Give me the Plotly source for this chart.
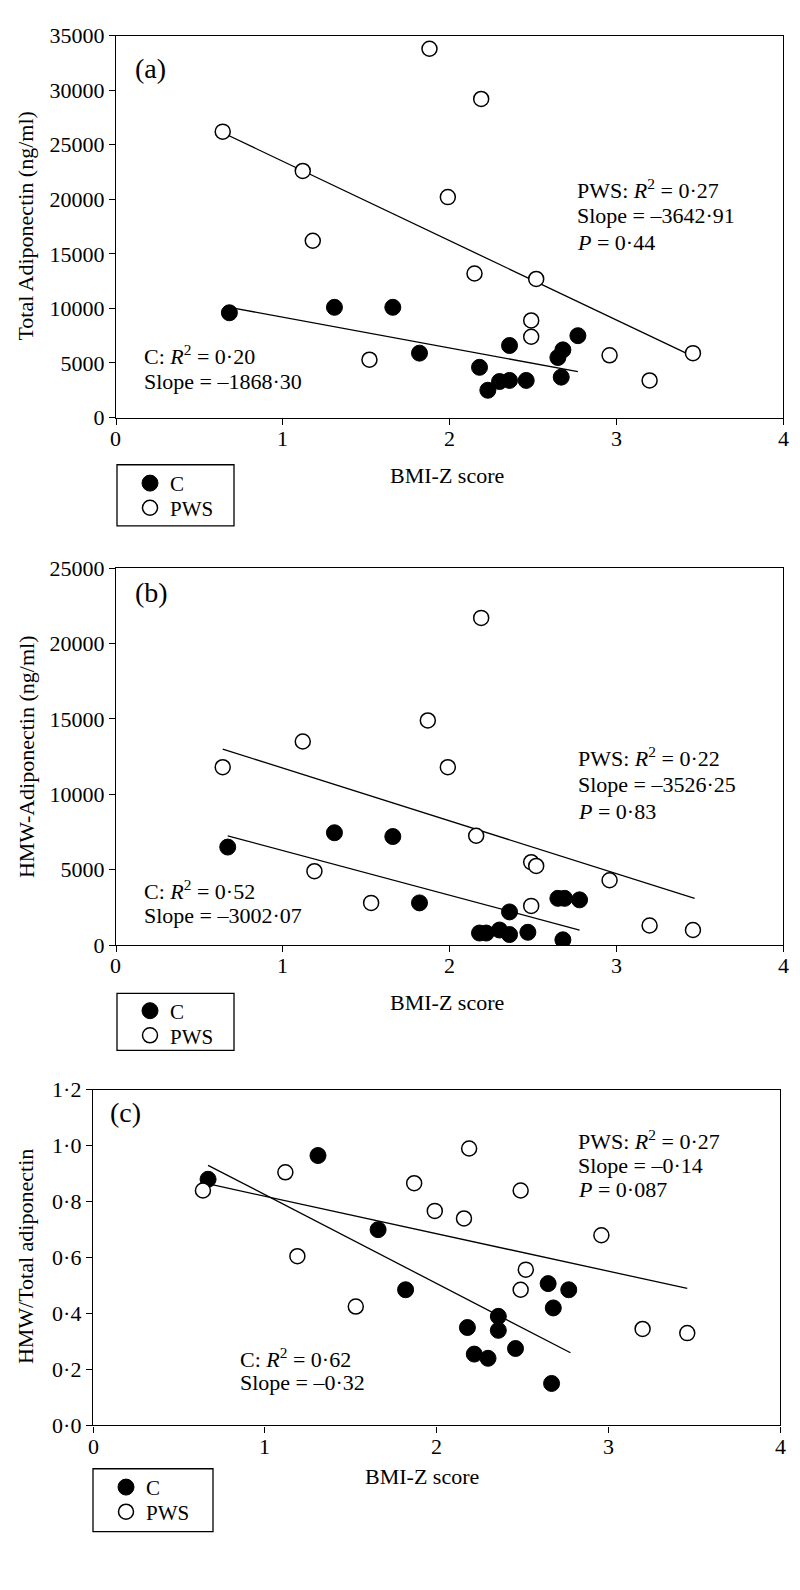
import plotly.graph_objects as go

W, H = 800, 1590
FONT = "Liberation Serif"

# shared x axis ticks
x_ticks = [0, 1, 2, 3, 4]

# (a) total adiponectin
a_c_x = [0.68, 1.31, 1.66, 1.82, 2.18, 2.23, 2.30, 2.36, 2.36, 2.46, 2.65, 2.68, 2.67, 2.77]
a_c_y = [9600, 10100, 10100, 5900, 4600, 2500, 3300, 3400, 6600, 3400, 5500, 6200, 3700, 7500]
a_pws_x = [0.64, 1.12, 1.18, 1.52, 1.88, 2.19, 1.99, 2.15, 2.52, 2.49, 2.49, 2.96, 3.20, 3.46]
a_pws_y = [26200, 22600, 16200, 5300, 33800, 29200, 20200, 13200, 12700, 8900, 7400, 5700, 3400, 5900]
a_c_fit_x = [0.68, 2.77]
a_c_fit_y = [10100, 4200]
a_pws_fit_x = [0.64, 3.46]
a_pws_fit_y = [26100, 5600]
a_ticks = [0, 5000, 10000, 15000, 20000, 25000, 30000, 35000]

# (b) HMW adiponectin
b_c_x = [0.67, 1.31, 1.66, 1.82, 2.36, 2.18, 2.22, 2.30, 2.36, 2.47, 2.65, 2.69, 2.78, 2.68]
b_c_y = [6500, 7450, 7200, 2800, 2200, 800, 800, 1000, 700, 850, 3100, 3100, 3000, 350]
b_pws_x = [0.64, 1.12, 1.19, 1.53, 1.87, 2.19, 1.99, 2.16, 2.49, 2.52, 2.49, 2.96, 3.20, 3.46]
b_pws_y = [11800, 13500, 4900, 2800, 14900, 21700, 11800, 7250, 5500, 5250, 2600, 4300, 1300, 1000]
b_c_fit_x = [0.67, 2.78]
b_c_fit_y = [7250, 1000]
b_pws_fit_x = [0.64, 3.47]
b_pws_fit_y = [13000, 3100]
b_ticks = [0, 5000, 10000, 15000, 20000, 25000]

# (c) HMW / total ratio
c_c_x = [0.67, 1.31, 1.66, 1.82, 2.18, 2.22, 2.30, 2.36, 2.36, 2.46, 2.65, 2.68, 2.77, 2.67]
c_c_y = [0.88, 0.965, 0.70, 0.485, 0.35, 0.255, 0.24, 0.39, 0.34, 0.275, 0.507, 0.42, 0.485, 0.15]
c_pws_x = [0.64, 1.12, 1.19, 1.53, 1.87, 2.19, 1.99, 2.16, 2.49, 2.52, 2.49, 2.96, 3.20, 3.46]
c_pws_y = [0.84, 0.905, 0.605, 0.425, 0.866, 0.99, 0.767, 0.74, 0.84, 0.557, 0.485, 0.68, 0.345, 0.33]
c_c_fit_x = [0.67, 2.78]
c_c_fit_y = [0.93, 0.26]
c_pws_fit_x = [0.66, 3.46]
c_pws_fit_y = [0.865, 0.49]
c_ticks = [0, 0.2, 0.4, 0.6, 0.8, 1.0, 1.2]
c_tick_text = ["0·0", "0·2", "0·4", "0·6", "0·8", "1·0", "1·2"]


def px(p):
    return p / W


def py(p):
    return 1 - p / H


fig = go.Figure()

# one legend per entry, so each row can be placed where the reference has it
panels = [
    ("", "legend", "legend2", a_c_x, a_c_y, a_pws_x, a_pws_y, a_c_fit_x, a_c_fit_y, a_pws_fit_x, a_pws_fit_y),
    ("2", "legend3", "legend4", b_c_x, b_c_y, b_pws_x, b_pws_y, b_c_fit_x, b_c_fit_y, b_pws_fit_x, b_pws_fit_y),
    ("3", "legend5", "legend6", c_c_x, c_c_y, c_pws_x, c_pws_y, c_c_fit_x, c_c_fit_y, c_pws_fit_x, c_pws_fit_y),
]

for sfx, leg_c, leg_w, cx, cy, wx, wy, cfx, cfy, wfx, wfy in panels:
    ax = dict(xaxis="x" + sfx, yaxis="y" + sfx)
    line = dict(color="black", width=1.3)
    fig.add_trace(go.Scatter(x=wfx, y=wfy, mode="lines", line=line, showlegend=False, **ax))
    fig.add_trace(go.Scatter(x=cfx, y=cfy, mode="lines", line=line, showlegend=False, **ax))
    fig.add_trace(go.Scatter(
        x=cx, y=cy, mode="markers", name="C", legend=leg_c,
        marker=dict(size=16, color="black", line=dict(color="black", width=1)), **ax))
    fig.add_trace(go.Scatter(
        x=wx, y=wy, mode="markers", name="PWS", legend=leg_w,
        marker=dict(size=15, color="white", line=dict(color="black", width=1.5)), **ax))

axis_style = dict(
    showline=True, linecolor="black", linewidth=1.3, mirror=True,
    ticks="outside", ticklen=6, tickwidth=1.3, tickcolor="black",
    showgrid=False, zeroline=False, tickformat="d",
    tickfont=dict(family=FONT, size=22, color="black"),
)
# x tick labels are written below as annotations, a little closer to the axis
x_style = dict(axis_style, showticklabels=False)

fig.update_layout(
    width=W, height=H,
    margin=dict(l=0, r=0, t=0, b=0),
    paper_bgcolor="white", plot_bgcolor="white",
    font=dict(family=FONT, size=22, color="black"),
    xaxis=dict(domain=[px(116), px(783)], range=[0, 4], tickvals=x_ticks, anchor="y", **x_style),
    yaxis=dict(domain=[py(412), py(24)], range=[0, 35000], tickvals=a_ticks, anchor="x", **axis_style),
    xaxis2=dict(domain=[px(116), px(783)], range=[0, 4], tickvals=x_ticks, anchor="y2", **x_style),
    yaxis2=dict(domain=[py(948), py(565)], range=[0, 25000], tickvals=b_ticks, anchor="x2", **axis_style),
    xaxis3=dict(domain=[px(93), px(780)], range=[0, 4], tickvals=x_ticks, anchor="y3", **x_style),
    yaxis3=dict(domain=[py(1436), py(1095)], range=[0, 1.2], tickvals=c_ticks, ticktext=c_tick_text,
                anchor="x3", **axis_style),
)

for xref, label_y in [("x", 433), ("x2", 969), ("x3", 1457)]:
    for t in x_ticks:
        fig.add_annotation(text=str(t), x=t, xref=xref, y=py(label_y), yref="paper",
                           xanchor="center", yanchor="middle", showarrow=False,
                           font=dict(family=FONT, size=22, color="black"))

# legends sit inside separately drawn boxes
legend_style = dict(
    borderwidth=0, bgcolor="rgba(0,0,0,0)",
    font=dict(family=FONT, size=21, color="black"),
    xanchor="left", yanchor="middle", itemwidth=30,
)
legend_rows = {
    "legend": (130, 479), "legend2": (130, 504),
    "legend3": (130, 1015), "legend4": (130, 1040),
    "legend5": (106, 1499), "legend6": (106, 1524),
}
fig.update_layout(**{name: dict(x=px(x), y=py(y), **legend_style)
                     for name, (x, y) in legend_rows.items()})

legend_boxes = [(117, 460, 234, 522), (117, 997, 234, 1055), (93, 1480, 213, 1544)]
for x0, y0, x1, y1 in legend_boxes:
    fig.add_shape(type="rect", xref="paper", yref="paper",
                  x0=px(x0), x1=px(x1), y0=py(y1), y1=py(y0),
                  line=dict(color="black", width=1.3))

notes = [
    ("(a)", 133, 57, 28),
    ("PWS: <i>R</i><sup>2</sup> = 0·27", 575, 180, 22),
    ("Slope = –3642·91", 575, 207, 22),
    ("<i>P</i> = 0·44", 575, 234, 22),
    ("C: <i>R</i><sup>2</sup> = 0·20", 142, 348, 22),
    ("Slope = –1868·30", 142, 375, 22),
    ("(b)", 133, 590, 28),
    ("PWS: <i>R</i><sup>2</sup> = 0·22", 576, 757, 22),
    ("Slope = –3526·25", 576, 785, 22),
    ("<i>P</i> = 0·83", 576, 812, 22),
    ("C: <i>R</i><sup>2</sup> = 0·52", 142, 892, 22),
    ("Slope = –3002·07", 142, 918, 22),
    ("(c)", 108, 1118, 28),
    ("PWS: <i>R</i><sup>2</sup> = 0·27", 576, 1146, 22),
    ("Slope = –0·14", 576, 1172, 22),
    ("<i>P</i> = 0·087", 576, 1196, 22),
    ("C: <i>R</i><sup>2</sup> = 0·62", 238, 1367, 22),
    ("Slope = –0·32", 238, 1392, 22),
]
for text, x, y, size in notes:
    fig.add_annotation(text=text, x=px(x), y=py(y), xref="paper", yref="paper",
                       xanchor="left", yanchor="middle", showarrow=False,
                       font=dict(family=FONT, size=size, color="black"))

# axis titles
titles = [
    ("BMI-Z score", 447, 471, 0),
    ("BMI-Z score", 447, 1006, 0),
    ("BMI-Z score", 422, 1488, 0),
    ("Total Adiponectin (ng/ml)", 26, 218, -90),
    ("HMW-Adiponectin (ng/ml)", 26, 757, -90),
    ("HMW/Total adiponectin", 25, 1265, -90),
]
for text, x, y, ang in titles:
    fig.add_annotation(text=text, x=px(x), y=py(y), xref="paper", yref="paper",
                       xanchor="center", yanchor="middle", showarrow=False, textangle=ang,
                       font=dict(family=FONT, size=22, color="black"))

fig.write_html("out.html", config={"displayModeBar": False},
               post_script="document.body.style.margin='0';")
